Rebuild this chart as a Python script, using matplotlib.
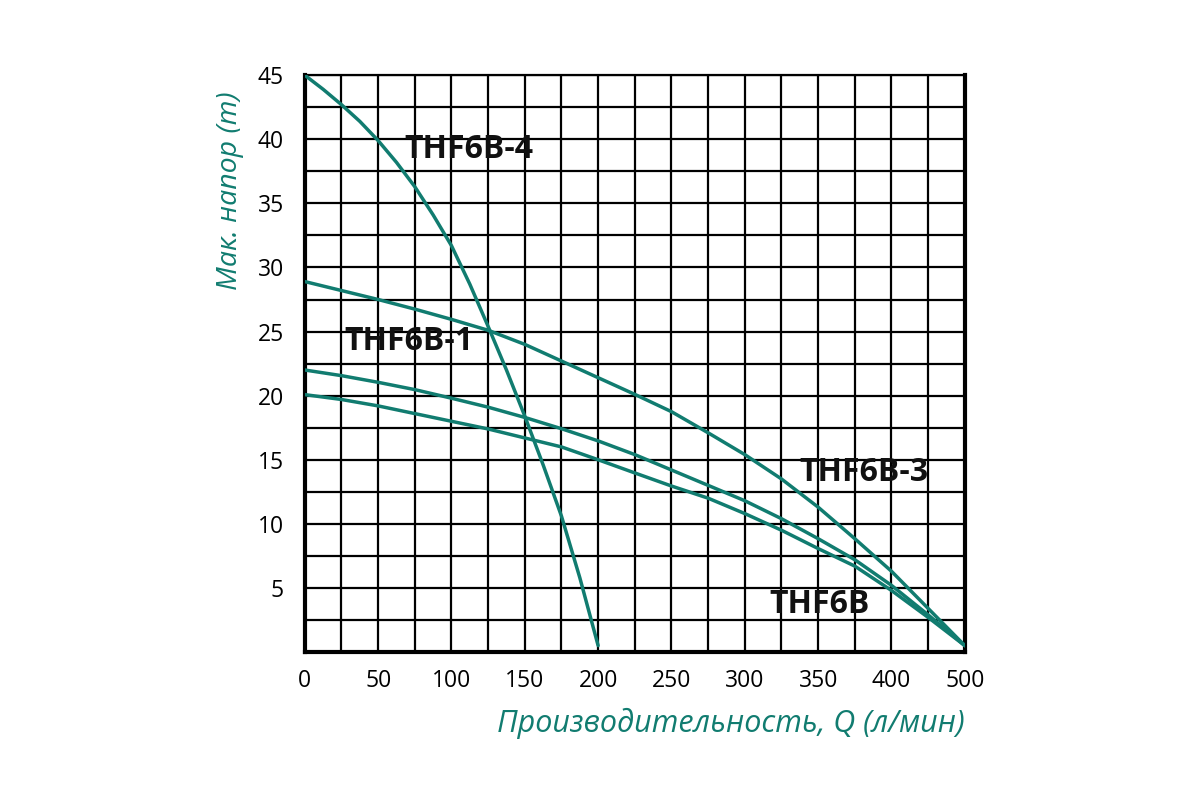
import numpy as np
import matplotlib
matplotlib.use("Agg")
import matplotlib.pyplot as plt

plt.rcParams['font.family'] = ['Open Sans', 'DejaVu Sans']

# flow, l/min (the picture's last column is labelled 500, the one before 450)
q = [0, 25, 50, 75, 100, 125, 150, 175, 200, 225, 250, 275, 300,
     325, 350, 375, 400, 450, 500]
q4 = [0, 12.5, 25, 37.5, 50, 62.5, 75, 87.5, 100, 112.5, 125, 137.5,
      150, 162.5, 175, 187.5, 200]

head_4 = [45, 43.9, 42.7, 41.4, 39.9, 38.2, 36.3, 34.1, 31.7, 28.7, 25.4,
          22.0, 18.4, 14.6, 10.6, 5.8, 0.5]
head_3 = [28.9, 28.2, 27.5, 26.75, 25.95, 25.1, 24.0, 22.7, 21.4, 20.1,
          18.75, 17.1, 15.4, 13.5, 11.3, 8.84, 6.3, 3.4, 0.5]
head_1 = [22.0, 21.56, 21.04, 20.47, 19.8, 19.1, 18.3, 17.42, 16.47, 15.4,
          14.2, 13.0, 11.8, 10.4, 8.84, 7.2, 5.2, 2.9, 0.5]
head_0 = [20.08, 19.7, 19.2, 18.6, 18.0, 17.4, 16.7, 16.0, 15.0, 13.97,
          12.95, 12.0, 10.8, 9.5, 8.07, 6.7, 4.8, 2.7, 0.5]

x_ticks = [0, 50, 100, 150, 200, 250, 300, 350, 400, 500]
x_grid = [0, 25, 50, 75, 100, 125, 150, 175, 200, 225, 250, 275, 300,
          325, 350, 375, 400, 450, 500]
y_ticks = [5, 10, 15, 20, 25, 30, 35, 40, 45]

TEAL = '#117c70'

# the chart's x axis is squeezed after 400
def fwd(v):
    return np.interp(v, [0, 400, 500], [0, 400, 450])

def inv(v):
    return np.interp(v, [0, 400, 450], [0, 400, 500])

fig = plt.figure(figsize=(12, 8), dpi=100)
ax = fig.add_axes([0.254, 0.185, 0.55, 0.721])
ax.set_xscale('function', functions=(fwd, inv))

for h, xs in [(head_4, q4), (head_3, q), (head_1, q), (head_0, q)]:
    ax.plot(xs, h, color=TEAL, lw=2.5, solid_capstyle='round',
            solid_joinstyle='round', zorder=3)

ax.set_xlim(0, 500)
ax.set_ylim(0, 45)
ax.set_xticks(x_ticks)
ax.set_xticklabels([str(v) for v in x_ticks])
ax.set_xticks(x_grid, minor=True)
ax.set_yticks(y_ticks)
ax.set_yticks(np.arange(0, 45.1, 2.5), minor=True)
ax.grid(which='both', color='black', lw=1.6)
ax.tick_params(which='both', length=0)
ax.tick_params(axis='y', labelsize=16.5, pad=15)
ax.tick_params(axis='x', labelsize=16.5, pad=12)

for side in ['left', 'bottom', 'right']:
    ax.spines[side].set_linewidth(3)
ax.spines['top'].set_linewidth(1.6)

ax.set_ylabel('Мак. напор (m)', color=TEAL, fontsize=20.5, style='italic')
ax.yaxis.set_label_coords(-0.092, 0.8)
ax.set_xlabel('Производительность, Q (л/мин)', color=TEAL, fontsize=22,
              style='italic', ha='right')
ax.xaxis.set_label_coords(1.0, -0.097)

labels = [('THF6B-4', 68, 39.2), ('THF6B-1', 27, 24.2),
          ('THF6B-3', 337, 14.0), ('THF6B', 317, 3.7)]
for txt, lx, ly in labels:
    ax.text(lx, ly, txt, fontsize=23, fontweight='bold', color='#111111',
            ha='left', va='center', zorder=4)

fig.savefig('out.png', dpi=100, facecolor='white')
